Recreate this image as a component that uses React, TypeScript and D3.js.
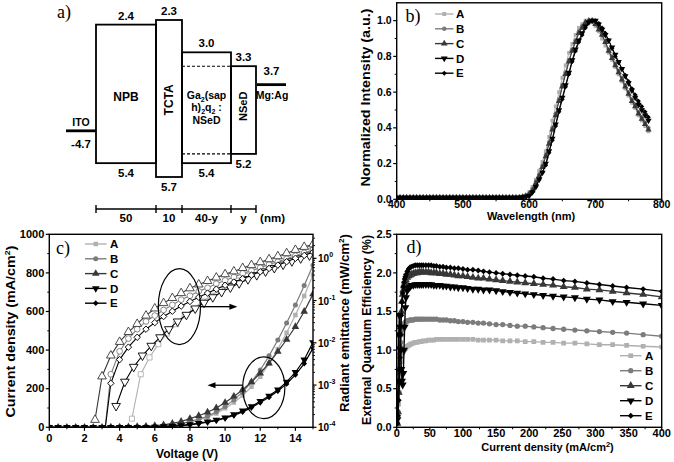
import React from 'react';
import * as d3 from 'd3';

const SANS = '"Liberation Sans", Arial, Helvetica, sans-serif';
const SERIF = '"Liberation Serif", "Times New Roman", serif';

// ---------------- shared series ----------------
const seriesNames = ['A', 'B', 'C', 'D', 'E'];
const seriesColors = ['#b0b0b0', '#7c7c7c', '#383838', '#000000', '#000000'];
const seriesShapes = ['square', 'circle', 'triangle', 'down', 'diamond'];

// ---------------- panel a: energy levels ----------------
const layerNames = ['NPB', 'TCTA', 'Ga2(saph)2q2:NSeD', 'NSeD'];
const layerLUMO = [2.4, 2.3, 3.0, 3.3];
const layerHOMO = [5.4, 5.7, 5.4, 5.2];
const layerThickness = ['50', '10', '40-y', 'y'];
const anodeName = 'ITO';
const anodeWF = 4.7;
const cathodeName = 'Mg:Ag';
const cathodeWF = 3.7;

// ---------------- panel b: EL spectra ----------------
const wavelengths = [
  400, 405, 410, 415, 420, 425, 430, 435, 440, 445, 450, 455, 460, 465, 470, 475, 480, 485, 490, 495,
  500, 505, 510, 515, 520, 525, 530, 535, 540, 545, 550, 555, 560, 565, 570, 575, 580, 585, 590, 595,
  600, 605, 610, 615, 620, 625, 630, 635, 640, 645, 650, 655, 660, 665, 670, 675, 680, 685, 690, 695,
  700, 705, 710, 715, 720, 725, 730, 735, 740, 745, 750, 755, 760, 765, 770, 775, 780,
];
const specBaseline = [
  0.01, 0.01, 0.01, 0.01, 0.01, 0.01, 0.01, 0.01, 0.01, 0.01, 0.01, 0.01, 0.01, 0.01, 0.01, 0.01, 0.01, 0.01, 0.01, 0.01,
  0.01, 0.01, 0.01, 0.01, 0.01, 0.01, 0.01, 0.01, 0.01, 0.01, 0.01, 0.01, 0.01, 0.01, 0.01, 0.01, 0.01,
];
const specA = [...specBaseline, 0.012, 0.016, 0.022,
  0.04, 0.07, 0.11, 0.16, 0.21, 0.27, 0.35, 0.44, 0.52, 0.60, 0.68, 0.75, 0.82, 0.87, 0.92, 0.96, 0.98, 1.0, 1.0, 0.99,
  0.97, 0.94, 0.90, 0.86, 0.82, 0.78, 0.74, 0.70, 0.66, 0.62, 0.58, 0.54, 0.51, 0.47, 0.44, 0.41, 0.38];
const specB = [...specBaseline, 0.012, 0.014, 0.02,
  0.03, 0.06, 0.10, 0.14, 0.19, 0.25, 0.32, 0.40, 0.48, 0.56, 0.64, 0.71, 0.78, 0.84, 0.89, 0.94, 0.97, 0.99, 1.0, 1.0,
  0.98, 0.96, 0.92, 0.88, 0.84, 0.80, 0.76, 0.72, 0.68, 0.64, 0.60, 0.56, 0.53, 0.49, 0.46, 0.43, 0.40];
const specC = [...specBaseline, 0.011, 0.014, 0.019,
  0.03, 0.05, 0.09, 0.13, 0.18, 0.24, 0.31, 0.39, 0.47, 0.55, 0.63, 0.70, 0.77, 0.83, 0.88, 0.93, 0.96, 0.99, 1.0, 1.0,
  0.98, 0.95, 0.92, 0.88, 0.83, 0.79, 0.75, 0.71, 0.67, 0.63, 0.59, 0.55, 0.52, 0.48, 0.45, 0.42, 0.39];
const specD = [...specBaseline, 0.01, 0.012, 0.015,
  0.02, 0.04, 0.07, 0.11, 0.15, 0.20, 0.27, 0.34, 0.42, 0.50, 0.57, 0.64, 0.71, 0.78, 0.84, 0.89, 0.93, 0.97, 0.99, 1.0,
  1.0, 0.98, 0.95, 0.92, 0.89, 0.85, 0.81, 0.77, 0.73, 0.69, 0.65, 0.61, 0.57, 0.53, 0.50, 0.47, 0.44];
const specE = [...specBaseline, 0.01, 0.011, 0.014,
  0.02, 0.04, 0.07, 0.11, 0.15, 0.19, 0.26, 0.33, 0.41, 0.49, 0.56, 0.63, 0.70, 0.77, 0.83, 0.88, 0.92, 0.96, 0.99, 1.0,
  1.0, 0.985, 0.96, 0.93, 0.89, 0.845, 0.80, 0.765, 0.73, 0.695, 0.66, 0.62, 0.585, 0.55, 0.52, 0.49, 0.46];

// ---------------- panel c: J-V (left) and radiance (right, log) ----------------
const voltages = [0, 0.5, 1, 1.5, 2, 2.5, 3, 3.5, 4, 4.5, 5, 5.5, 6, 6.5, 7, 7.5, 8, 8.5, 9, 9.5, 10,
  10.5, 11, 11.5, 12, 12.5, 13, 13.5, 14, 14.5, 15];
const jA = [0, 0, 0, 0, 0, 0, 0, 0, 0, 1, 1, 2, 4, 7, 11, 17, 26, 37, 52, 72, 98, 128, 165, 210, 262, 330, 405, 490, 582, 680, 790];
const jB = [0, 0, 0, 0, 0, 0, 0, 0, 1, 1, 2, 3, 5, 8, 13, 20, 30, 42, 57, 80, 108, 142, 182, 235, 297, 370, 452, 540, 634, 735, 840];
const jC = [0, 0, 0, 0, 0, 0, 0, 1, 1, 2, 3, 5, 8, 13, 20, 30, 45, 60, 78, 100, 128, 160, 195, 235, 280, 332, 392, 455, 521, 600, 690];
const jD = [0, 0, 0, 0, 0, 0, 0, 0, 0, 0, 1, 1, 2, 4, 6, 10, 15, 21, 29, 38, 50, 66, 86, 108, 135, 163, 195, 235, 285, 350, 440];
const jE = [0, 0, 0, 0, 0, 0, 0, 0, 0, 0, 1, 1, 2, 3, 5, 8, 13, 19, 26, 35, 47, 62, 80, 102, 128, 156, 188, 225, 272, 330, 410];

const radVA = [4.7, 5.2, 5.7, 6.2, 6.7, 7.2, 7.7, 8.2, 8.7, 9.2, 9.7, 10.2, 10.7, 11.2, 11.7, 12.2, 12.7, 13.2, 13.7, 14.2, 14.7, 15.0];
const radA = [1.6e-4, 1.8e-3, 4.5e-3, 9.3e-3, 1.66e-2, 2.75e-2, 4.4e-2, 6.3e-2, 9.5e-2, 0.13, 0.18, 0.23, 0.30, 0.38, 0.48, 0.59, 0.72, 0.87, 1.05, 1.26, 1.48, 1.6];
const radVB = [3.1, 3.5, 4, 4.5, 5, 5.5, 6, 6.5, 7, 7.5, 8, 8.5, 9, 9.5, 10, 10.5, 11, 11.5, 12, 12.5, 13, 13.5, 14, 14.5, 15];
const radB = [5e-5, 1.8e-3, 6.3e-3, 1.26e-2, 2.1e-2, 3.2e-2, 4.4e-2, 6.0e-2, 7.9e-2, 0.105, 0.13, 0.165, 0.20, 0.25, 0.30, 0.36, 0.44, 0.51, 0.60, 0.71, 0.83, 0.98, 1.15, 1.35, 1.58];
const radVC = [2.6, 3, 3.5, 4, 4.5, 5, 5.5, 6, 6.5, 7, 7.5, 8, 8.5, 9, 9.5, 10, 10.5, 11, 11.5, 12, 12.5, 13, 13.5, 14, 14.5, 15];
const radC = [1.5e-4, 1.6e-3, 5.0e-3, 1.05e-2, 1.8e-2, 2.8e-2, 4.4e-2, 6.5e-2, 8.7e-2, 0.115, 0.15, 0.195, 0.24, 0.29, 0.35, 0.42, 0.49, 0.59, 0.69, 0.81, 0.95, 1.12, 1.32, 1.58, 1.86, 2.14];
const radVD = [3.8, 4.3, 4.8, 5.3, 5.8, 6.3, 6.8, 7.3, 7.8, 8.3, 8.8, 9.3, 9.8, 10.3, 10.8, 11.3, 11.8, 12.3, 12.8, 13.3, 13.8, 14.3, 14.8];
const radD = [3.2e-4, 1.2e-3, 2.7e-3, 5.0e-3, 8.5e-3, 1.35e-2, 2.1e-2, 3.2e-2, 4.6e-2, 6.5e-2, 8.9e-2, 0.12, 0.16, 0.204, 0.257, 0.32, 0.40, 0.49, 0.59, 0.71, 0.85, 1.0, 1.17];
const radVE = [3.1, 3.5, 4, 4.5, 5, 5.5, 6, 6.5, 7, 7.5, 8, 8.5, 9, 9.5, 10, 10.5, 11, 11.5, 12, 12.5, 13, 13.5, 14, 14.5, 15];
const radE = [5e-5, 1.1e-3, 4.0e-3, 7.9e-3, 1.35e-2, 2.1e-2, 3.0e-2, 4.2e-2, 5.6e-2, 7.4e-2, 9.5e-2, 0.12, 0.15, 0.186, 0.23, 0.275, 0.33, 0.40, 0.48, 0.575, 0.69, 0.83, 1.0, 1.17, 1.4];

// ---------------- panel d: EQE vs current density ----------------
const eqeJ = [1, 2, 3, 4, 5, 6, 7, 8, 9, 10, 11, 12, 13, 14, 16, 18, 20, 22, 25, 28, 31, 34, 37, 40, 44, 48, 52, 56, 60,
  65, 70, 75, 81, 87, 93, 100, 107, 115, 123, 131, 140, 150, 160, 171, 182, 194, 207, 221, 236, 252, 269, 287, 306, 326, 347, 372, 400];
const eqeA = [0.05, 0.15, 0.3, 0.45, 0.6, 0.75, 0.85, 0.92, 0.96, 0.98, 1.0, 1.01, 1.02, 1.03, 1.05, 1.06, 1.07, 1.08,
  1.09, 1.1, 1.1, 1.11, 1.11, 1.12, 1.12, 1.13, 1.13, 1.13, 1.14, 1.14, 1.14, 1.14, 1.14, 1.14, 1.14, 1.14,
  1.14, 1.14, 1.13, 1.13, 1.13, 1.13, 1.12, 1.12, 1.12, 1.11, 1.11, 1.1, 1.1, 1.09, 1.09, 1.08, 1.07, 1.07, 1.06, 1.05, 1.04];
const eqeB = [0.05, 0.2, 0.45, 0.7, 0.95, 1.1, 1.2, 1.26, 1.3, 1.32, 1.34, 1.35, 1.36, 1.37, 1.38, 1.38, 1.39, 1.39,
  1.39, 1.4, 1.4, 1.4, 1.4, 1.4, 1.4, 1.4, 1.4, 1.4, 1.4, 1.39, 1.39, 1.39, 1.38, 1.38, 1.37, 1.37,
  1.36, 1.36, 1.35, 1.35, 1.34, 1.33, 1.33, 1.32, 1.31, 1.31, 1.3, 1.29, 1.28, 1.27, 1.26, 1.25, 1.24, 1.23, 1.22, 1.2, 1.18];
const eqeC = [0.05, 0.2, 0.45, 0.75, 1.05, 1.3, 1.5, 1.63, 1.72, 1.78, 1.83, 1.86, 1.89, 1.91, 1.94, 1.96, 1.97, 1.98,
  1.99, 2.0, 2.0, 2.01, 2.01, 2.01, 2.01, 2.01, 2.0, 2.0, 2.0, 1.99, 1.99, 1.98, 1.98, 1.97, 1.96, 1.96,
  1.95, 1.94, 1.93, 1.93, 1.92, 1.91, 1.9, 1.89, 1.88, 1.87, 1.86, 1.85, 1.84, 1.82, 1.81, 1.79, 1.78, 1.76, 1.74, 1.72, 1.69];
const eqeD = [0.1, 0.6, 1.2, 1.45, 1.3, 1.0, 0.75, 0.6, 0.55, 0.7, 1.0, 1.3, 1.55, 1.68, 1.77, 1.8, 1.82, 1.84,
  1.84, 1.85, 1.85, 1.85, 1.85, 1.85, 1.85, 1.85, 1.85, 1.84, 1.84, 1.84, 1.83, 1.83, 1.82, 1.82, 1.81, 1.81,
  1.8, 1.79, 1.79, 1.78, 1.78, 1.77, 1.76, 1.75, 1.74, 1.73, 1.72, 1.71, 1.7, 1.69, 1.68, 1.66, 1.65, 1.63, 1.62, 1.6, 1.58];
const eqeE = [0.05, 0.15, 0.35, 0.6, 0.9, 1.2, 1.45, 1.62, 1.74, 1.82, 1.88, 1.92, 1.95, 1.98, 2.02, 2.05, 2.07, 2.08,
  2.09, 2.1, 2.1, 2.1, 2.1, 2.1, 2.1, 2.1, 2.1, 2.09, 2.09, 2.08, 2.08, 2.07, 2.07, 2.06, 2.06, 2.05,
  2.04, 2.04, 2.03, 2.02, 2.01, 2.0, 1.99, 1.98, 1.97, 1.96, 1.95, 1.93, 1.92, 1.9, 1.89, 1.87, 1.85, 1.83, 1.81, 1.79, 1.76];

// ---------------- helpers ----------------
const symTypes: any = {
  square: d3.symbolSquare, circle: d3.symbolCircle, triangle: d3.symbolTriangle,
  down: d3.symbolTriangle, diamond: d3.symbolSquare,
};
function Marker({ x, y, shape, size, fill, stroke = 'none', sw = 0 }: any) {
  const rot = shape === 'down' ? 180 : shape === 'diamond' ? 45 : 0;
  const s = shape === 'diamond' ? size * 0.8 : shape === 'triangle' || shape === 'down' ? size * 1.25 : size;
  return (
    <path d={d3.symbol(symTypes[shape], s)() as string}
      transform={`translate(${x},${y}) rotate(${rot})`} fill={fill} stroke={stroke} strokeWidth={sw} />
  );
}

function T({ x, y, size = 11, anchor = 'middle', rot = 0, weight = 'bold', family = SANS, dy, len, children }: any) {
  const tr = `translate(${x},${y})` + (rot ? ` rotate(${rot})` : '');
  return (
    <text transform={tr} fontSize={size} textAnchor={anchor} fontWeight={weight} fontFamily={family} fill="#000" dy={dy}
      textLength={len} lengthAdjust={len ? 'spacingAndGlyphs' : undefined}>
      {children}
    </text>
  );
}

function Frame({ xs, ys, xMaj, xMin, yMaj, yMin, xFmt, yFmt, xLabY, fs = 11 }: any) {
  const [x0, x1] = xs.range();
  const [yb, yt] = ys.range();
  return (
    <g>
      {xMin.map((t: number) => <line key={'xm' + t} x1={xs(t)} x2={xs(t)} y1={yb} y2={yb + 2} stroke="#000" strokeWidth={1} />)}
      {xMaj.map((t: number) => <line key={'xM' + t} x1={xs(t)} x2={xs(t)} y1={yb} y2={yb + 3.5} stroke="#000" strokeWidth={1.2} />)}
      {yMin.map((t: number) => <line key={'ym' + t} x1={x0 - 2} x2={x0} y1={ys(t)} y2={ys(t)} stroke="#000" strokeWidth={1} />)}
      {yMaj.map((t: number) => <line key={'yM' + t} x1={x0 - 3.5} x2={x0} y1={ys(t)} y2={ys(t)} stroke="#000" strokeWidth={1.2} />)}
      <rect x={x0} y={yt} width={x1 - x0} height={yb - yt} fill="none" stroke="#000" strokeWidth={1.4} />
      {xMaj.map((t: number) => <T key={'xl' + t} x={xs(t)} y={xLabY} size={fs}>{xFmt(t)}</T>)}
      {yMaj.map((t: number) => <T key={'yl' + t} x={x0 - 5} y={ys(t)} dy="0.34em" anchor="end" size={fs}>{yFmt(t)}</T>)}
    </g>
  );
}

function Legend({ x0, x1, tx, y0, step, size, fs = 11.5 }: any) {
  return (
    <g>
      {seriesNames.map((n, k) => {
        const y = y0 + k * step;
        return (
          <g key={n}>
            <line x1={x0} x2={x1} y1={y} y2={y} stroke={seriesColors[k]} strokeWidth={1.4} />
            <Marker x={(x0 + x1) / 2} y={y} shape={seriesShapes[k]} size={size} fill={seriesColors[k]} />
            <T x={tx} y={y} dy="0.36em" anchor="start" size={fs}>{n}</T>
          </g>
        );
      })}
    </g>
  );
}

// ---------------- panel a ----------------
const layerWidths = [60, 26, 49, 25];
function PanelA() {
  const eY = d3.scaleLinear().domain([2.3, 5.7]).range([20, 177]);
  const edges = [0, ...Array.from(d3.cumsum(layerWidths))];
  const lx = d3.scaleLinear().domain([0, 160]).range([96, 256]);
  const cx = (i: number) => (lx(edges[i]) + lx(edges[i + 1])) / 2;
  const barY = eY(5.7) + 32;
  const sw = 1.8;
  const fs = 11.5;
  return (
    <g>
      <T x={64} y={18} size={18} weight="normal" family={SERIF}>a)</T>
      {layerNames.map((n, i) => (
        <rect key={n} x={lx(edges[i])} y={eY(layerLUMO[i])} width={lx(edges[i + 1]) - lx(edges[i])}
          height={eY(layerHOMO[i]) - eY(layerLUMO[i])} fill="none" stroke="#000" strokeWidth={sw} />
      ))}
      {[layerLUMO[3], layerHOMO[3]].map((e, k) => (
        <line key={k} x1={lx(edges[2])} x2={lx(edges[3])} y1={eY(e)} y2={eY(e)} stroke="#000" strokeWidth={1.1} strokeDasharray="3,2" />
      ))}
      <line x1={lx(-30)} x2={lx(0)} y1={eY(anodeWF)} y2={eY(anodeWF)} stroke="#000" strokeWidth={2.8} />
      <line x1={lx(161)} x2={lx(190)} y1={eY(cathodeWF)} y2={eY(cathodeWF)} stroke="#000" strokeWidth={2.8} />
      {layerNames.map((n, i) => (
        <g key={'l' + n}>
          <T x={cx(i)} y={eY(layerLUMO[i]) - 5} size={fs}>{layerLUMO[i].toFixed(1)}</T>
          <T x={cx(i)} y={eY(layerHOMO[i]) + 14} size={fs}>{layerHOMO[i].toFixed(1)}</T>
        </g>
      ))}
      <T x={cx(0)} y={eY(3.95)} dy="0.36em" size={12}>NPB</T>
      <T x={cx(1)} y={eY(4.03)} dy="0.36em" size={12} rot={-90}>TCTA</T>
      <text fontFamily={SANS} fontSize={10.5} fontWeight="bold" textAnchor="middle">
        <tspan x={cx(2)} y={eY(4.2) - 9}>Ga<tspan fontSize={7} dy={3}>2</tspan><tspan dy={-3}>(sap</tspan></tspan>
        <tspan x={cx(2)} y={eY(4.2) + 3.5}>h)<tspan fontSize={7} dy={3}>2</tspan><tspan dy={-3}>q</tspan><tspan fontSize={7} dy={3}>2</tspan><tspan dy={-3}> :</tspan></tspan>
        <tspan x={cx(2)} y={eY(4.2) + 16}>NSeD</tspan>
      </text>
      <T x={cx(3)} y={eY(4.17)} dy="0.36em" size={11} rot={-90}>NSeD</T>
      <T x={lx(-15)} y={eY(anodeWF) - 5} size={10.5}>{anodeName}</T>
      <T x={lx(-15)} y={eY(anodeWF) + 17} size={fs}>{'-' + anodeWF.toFixed(1)}</T>
      <T x={lx(175.5)} y={eY(cathodeWF) - 10} size={fs}>{cathodeWF.toFixed(1)}</T>
      <T x={lx(176)} y={eY(cathodeWF) + 14} size={10.5}>{cathodeName}</T>
      <line x1={lx(0)} x2={lx(160)} y1={barY} y2={barY} stroke="#000" strokeWidth={1.5} />
      {edges.map((e, i) => <line key={'bt' + i} x1={lx(e)} x2={lx(e)} y1={barY - 4} y2={barY + 4} stroke="#000" strokeWidth={1.4} />)}
      {layerThickness.map((t, i) => <T key={'th' + i} x={cx(i)} y={barY + 13} size={fs}>{t}</T>)}
      <T x={lx(176.5)} y={barY + 13} size={fs}>(nm)</T>
    </g>
  );
}

// ---------------- panel b ----------------
function PanelB() {
  const xs = d3.scaleLinear().domain([400, 800]).range([396.7, 661.7]);
  const ys = d3.scaleLinear().domain([0, 1.1]).range([199.3, 2.8]);
  const all = [specA, specB, specC, specD, specE];
  const line = d3.line<number>().x((_, i) => xs(wavelengths[i])).y((d) => ys(d));
  return (
    <g>
      <defs>
        <clipPath id="clipB"><rect x={396.7} y={2.8} width={265} height={196.5} /></clipPath>
      </defs>
      <g clipPath="url(#clipB)">
        {all.map((s, k) => (
          <g key={k}>
            <path d={line(s) as string} fill="none" stroke={seriesColors[k]} strokeWidth={1} />
            {s.map((v, i) => (
              <Marker key={i} x={xs(wavelengths[i])} y={ys(v)} shape={seriesShapes[k]} size={14} fill={seriesColors[k]} />
            ))}
          </g>
        ))}
      </g>
      <Frame xs={xs} ys={ys} xMaj={[400, 500, 600, 700, 800]} xMin={[450, 550, 650, 750]}
        yMaj={[0, 0.2, 0.4, 0.6, 0.8, 1.0]} yMin={[0.1, 0.3, 0.5, 0.7, 0.9]}
        xFmt={(t: number) => String(t)} yFmt={(t: number) => t.toFixed(1)} xLabY={207.5} fs={10.5} />
      <Legend x0={435} x1={453.5} tx={456} y0={14} step={14.8} size={16} />
      <T x={413} y={22} size={18} weight="normal" family={SERIF}>b)</T>
      <T x={531} y={220} size={11}>Wavelength (nm)</T>
      <T x={365.5} y={97.5} dy="0.36em" rot={-90} size={13} len={178}>Normalized Intensity (a.u.)</T>
    </g>
  );
}

// ---------------- panel c ----------------
function PanelC() {
  const xs = d3.scaleLinear().domain([0, 15]).range([49.3, 313]);
  const ys = d3.scaleLinear().domain([0, 1000]).range([427.3, 234.3]);
  const yr = d3.scaleLog().domain([1e-4, 3.7]).range([427.3, 234.3]);
  const jAll = [jA, jB, jC, jD, jE];
  const rV = [radVA, radVB, radVC, radVD, radVE];
  const rAll = [radA, radB, radC, radD, radE];
  const jLine = d3.line<number>().x((_, i) => xs(voltages[i])).y((d) => ys(d));
  const majR = [1e-4, 1e-3, 1e-2, 1e-1, 1];
  const minR: number[] = [];
  [1e-4, 1e-3, 1e-2, 1e-1, 1].forEach((b) => [2, 3, 4, 5, 6, 7, 8, 9].forEach((k) => { if (b * k <= 3.7) minR.push(b * k); }));
  const ex = 313;
  const arrow = (xa: number, xb: number, y: number) => {
    const dir = xb > xa ? 1 : -1;
    return (
      <g>
        <line x1={xa} x2={xb - dir * 6} y1={y} y2={y} stroke="#000" strokeWidth={1.3} />
        <path d={`M${xb},${y} L${xb - dir * 8},${y - 3} L${xb - dir * 8},${y + 3} Z`} fill="#000" />
      </g>
    );
  };
  return (
    <g>
      <defs>
        <clipPath id="clipC"><rect x={49.3} y={234.3} width={263.7} height={193} /></clipPath>
      </defs>
      <g clipPath="url(#clipC)">
        {rAll.map((s, k) => {
          const ln = d3.line<number>().x((_, i) => xs(rV[k][i])).y((d) => yr(d));
          return (
            <g key={'r' + k}>
              <path d={ln(s) as string} fill="none" stroke={seriesColors[k]} strokeWidth={1.1} />
              {s.map((v, i) => (
                <Marker key={i} x={xs(rV[k][i])} y={yr(v)} shape={seriesShapes[k]} size={26} fill="#fff" stroke={seriesColors[k]} sw={0.9} />
              ))}
            </g>
          );
        })}
        {jAll.map((s, k) => (
          <g key={'j' + k}>
            <path d={jLine(s) as string} fill="none" stroke={seriesColors[k]} strokeWidth={1.2} />
            {s.map((v, i) => (
              <Marker key={i} x={xs(voltages[i])} y={ys(v)} shape={seriesShapes[k]} size={20} fill={seriesColors[k]} />
            ))}
          </g>
        ))}
      </g>
      {/* annotations */}
      <ellipse cx={xs(7.4)} cy={ys(625)} rx={xs(8.6) - xs(7.4)} ry={ys(428) - ys(625)} fill="none" stroke="#000" strokeWidth={1.2} />
      {arrow(xs(8.6), xs(10.7), ys(625))}
      <ellipse cx={xs(12.2)} cy={ys(205)} rx={xs(13.4) - xs(12.2)} ry={ys(45) - ys(205)} fill="none" stroke="#000" strokeWidth={1.2} />
      {arrow(xs(11.0), xs(9.0), ys(218))}
      <Frame xs={xs} ys={ys} xMaj={[0, 2, 4, 6, 8, 10, 12, 14]} xMin={[1, 3, 5, 7, 9, 11, 13, 15]}
        yMaj={[0, 200, 400, 600, 800, 1000]} yMin={[100, 300, 500, 700, 900]}
        xFmt={(t: number) => String(t)} yFmt={(t: number) => String(t)} xLabY={442} fs={11} />
      {minR.map((t) => <line key={'rm' + t} x1={ex} x2={ex + 2} y1={yr(t)} y2={yr(t)} stroke="#000" strokeWidth={0.9} />)}
      {majR.map((t) => <line key={'rM' + t} x1={ex} x2={ex + 3.5} y1={yr(t)} y2={yr(t)} stroke="#000" strokeWidth={1.2} />)}
      {majR.map((t) => (
        <text key={'rl' + t} x={ex + 5} y={yr(t) + 4} fontFamily={SANS} fontWeight="bold" fontSize={10}>
          10<tspan fontSize={7} dy={-5}>{String(Math.round(Math.log10(t)))}</tspan>
        </text>
      ))}
      <Legend x0={85} x1={106.5} tx={110} y0={244} step={14.8} size={20} />
      <T x={63} y={254} size={18} weight="normal" family={SERIF}>c)</T>
      <T x={187} y={458} size={12}>Voltage (V)</T>
      <text transform="translate(10,331.5) rotate(-90)" fontFamily={SANS} fontWeight="bold" fontSize={13} textAnchor="middle" dy="0.36em"
        textLength={172} lengthAdjust="spacingAndGlyphs">
        Current density (mA/cm<tspan fontSize={8} dy={-5}>2</tspan><tspan dy={5}>)</tspan>
      </text>
      <text transform="translate(344,323) rotate(-90)" fontFamily={SANS} fontWeight="bold" fontSize={13} textAnchor="middle" dy="0.36em"
        textLength={178} lengthAdjust="spacingAndGlyphs">
        Radiant emittance (mW/cm<tspan fontSize={8} dy={-5}>2</tspan><tspan dy={5}>)</tspan>
      </text>
    </g>
  );
}

// ---------------- panel d ----------------
function PanelD() {
  const xs = d3.scaleLinear().domain([0, 400]).range([396.7, 661.7]);
  const ys = d3.scaleLinear().domain([0, 2.5]).range([427.3, 234.3]);
  const all = [eqeA, eqeB, eqeC, eqeD, eqeE];
  const line = d3.line<number>().x((_, i) => xs(eqeJ[i])).y((d) => ys(d));
  return (
    <g>
      <defs>
        <clipPath id="clipD"><rect x={396.7} y={234.3} width={265} height={193} /></clipPath>
      </defs>
      <g clipPath="url(#clipD)">
        {all.map((s, k) => (
          <g key={k}>
            <path d={line(s) as string} fill="none" stroke={seriesColors[k]} strokeWidth={1.4} />
            {s.map((v, i) => (
              <Marker key={i} x={xs(eqeJ[i])} y={ys(v)} shape={seriesShapes[k]} size={22} fill={seriesColors[k]} />
            ))}
          </g>
        ))}
      </g>
      <Frame xs={xs} ys={ys} xMaj={[0, 50, 100, 150, 200, 250, 300, 350, 400]}
        xMin={[25, 75, 125, 175, 225, 275, 325, 375]}
        yMaj={[0, 0.5, 1.0, 1.5, 2.0, 2.5]} yMin={[0.25, 0.75, 1.25, 1.75, 2.25]}
        xFmt={(t: number) => String(t)} yFmt={(t: number) => t.toFixed(1)} xLabY={436.5} fs={11} />
      <Legend x0={620} x1={641.5} tx={645} y0={355.7} step={15} size={22} />
      <T x={414} y={253} size={18} weight="normal" family={SERIF}>d)</T>
      <text x={547.5} y={451} fontFamily={SANS} fontWeight="bold" fontSize={11} textAnchor="middle">
        Current density (mA/cm<tspan fontSize={7.5} dy={-4}>2</tspan><tspan dy={4}>)</tspan>
      </text>
      <T x={366} y={330} dy="0.36em" rot={-90} size={12.5} len={190}>External Quantum Efficiency (%)</T>
    </g>
  );
}

export default function App() {
  return (
    <svg width={674} height={462} viewBox="0 0 674 462" style={{ position: 'absolute', left: 0, top: 0, background: '#fff' }}>
      <rect width={674} height={462} fill="#fff" />
      <PanelA />
      <PanelB />
      <PanelC />
      <PanelD />
    </svg>
  );
}
